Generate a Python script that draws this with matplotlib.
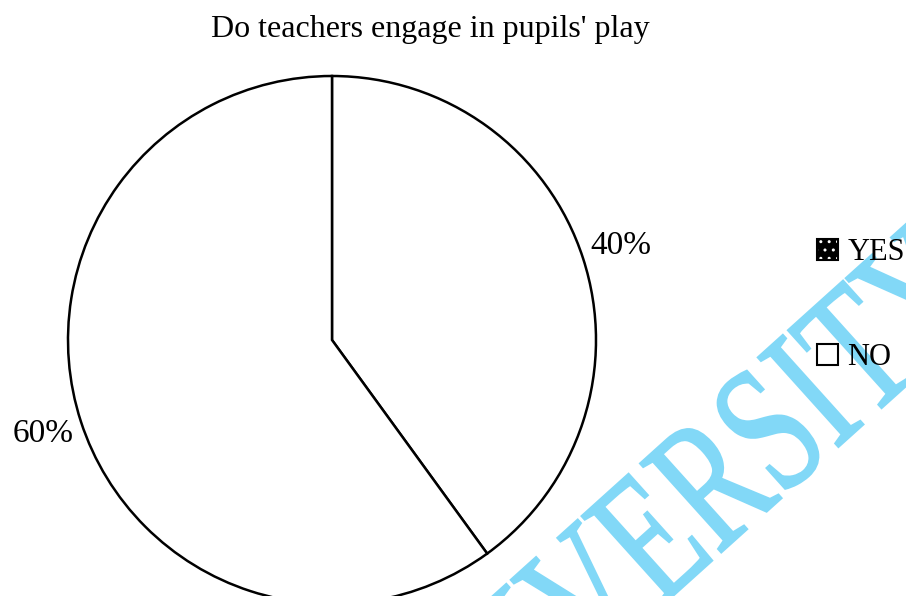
import matplotlib
matplotlib.use("Agg")
import matplotlib.pyplot as plt
from matplotlib.patches import Patch, PathPatch
from matplotlib.legend_handler import HandlerTuple
from matplotlib.textpath import TextPath
from matplotlib.font_manager import FontProperties
from matplotlib.transforms import Affine2D

plt.rcParams['font.family'] = ['Liberation Serif', 'DejaVu Serif']

# survey answers
answers = ['YES', 'NO']
shares = [40, 60]

W, H = 906, 596
fig = plt.figure(figsize=(W / 100, H / 100), dpi=100)

# pie: centre (332, 340) px, radius 264 px
cx, cy, r = 332, 340, 264
ax = fig.add_axes([(cx - r) / W, 1 - (cy + r) / H, 2 * r / W, 2 * r / H])
ax.set_facecolor('none')
wedges, texts = ax.pie(shares, labels=[f'{v}%' for v in shares],
                       startangle=90, counterclock=False, labeldistance=1.15,
                       colors=['white', 'white'],
                       wedgeprops=dict(edgecolor='black', linewidth=1.8, clip_on=False),
                       textprops=dict(fontsize=24))
for t in texts:
    t.set_horizontalalignment('center')
    t.set_verticalalignment('center')
    t.set_clip_on(False)
ax.set_xlim(-1, 1)
ax.set_ylim(-1, 1)
ax.set_aspect('equal')
ax.axis('off')

fig.text(430 / W, 1 - 30 / H, "Do teachers engage in pupils' play",
         ha='center', va='center', fontsize=23)

# watermark, drawn as a condensed text path in pixel coordinates
wm = 'UNIVERSITY'
fp = FontProperties(family='Liberation Serif')
em = 184
path = TextPath((0, 0), wm, size=em, prop=fp)
s_start = TextPath((0, 0), wm[:6], size=em, prop=fp).get_extents().x1
s_end = TextPath((0, 0), wm[:7], size=em, prop=fp).get_extents().x1
cap = TextPath((0, 0), 'I', size=em, prop=fp).get_extents().y1
trans = (Affine2D().translate(-(s_start + s_end) / 2, -cap / 2)
         .scale(0.7, 1).rotate_deg(42).translate(765, H - 432))
fig.patches.append(PathPatch(trans.transform_path(path), facecolor='#82d8f7',
                             edgecolor='#82d8f7', linewidth=1.5,
                             transform=None, zorder=1))

# legend swatches: black dotted square and plain square
yes_handle = (Patch(facecolor='black', edgecolor='white', hatch='..', linewidth=0),
              Patch(facecolor='none', edgecolor='black', linewidth=1.5))
no_handle = Patch(facecolor='white', edgecolor='black', linewidth=1.5)
leg = fig.legend([yes_handle, no_handle], answers,
                 handler_map={tuple: HandlerTuple(ndivide=1, pad=0)},
                 loc='center left', bbox_to_anchor=(817 / W, 1 - 305 / H),
                 frameon=False, fontsize=22, handlelength=0.69, handleheight=0.69,
                 handletextpad=0.3, labelspacing=2.5, borderpad=0, borderaxespad=0)
leg.set_zorder(5)

fig.savefig('out.png', dpi=100, facecolor='white')
